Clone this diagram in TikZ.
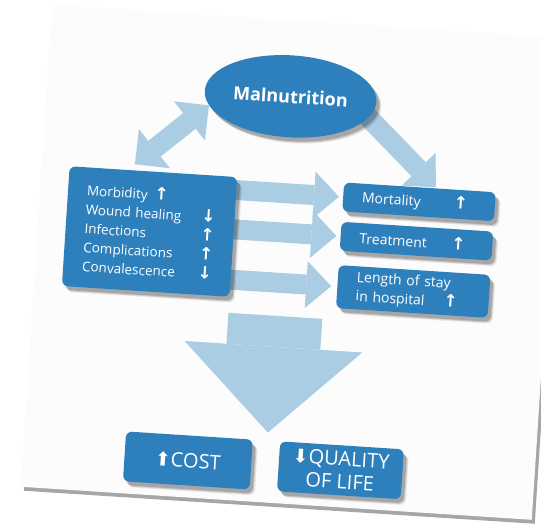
\documentclass[tikz,border=0pt]{standalone}
\usepackage{fontspec}
\setmainfont{Open Sans}
\newfontfamily\arrowfont{DejaVu Sans}
\usetikzlibrary{positioning, shapes.geometric, arrows.meta, shadows}

\definecolor{boxblue}{RGB}{46,128,188}
\definecolor{flowblue}{RGB}{170,205,228}
\definecolor{sheetwhite}{RGB}{252,252,252}

% small arrows for the trend of each effect
\newcommand{\incr}{{\arrowfont\bfseries\fontsize{17}{17}\selectfont ↑}}
\newcommand{\decr}{{\arrowfont\bfseries\fontsize{17}{17}\selectfont ↓}}
\newcommand{\bigincr}{{\arrowfont\fontsize{19}{19}\selectfont ⬆}}
\newcommand{\bigdecr}{{\arrowfont\fontsize{19}{19}\selectfont ⬇}}

\pgfdeclarelayer{sheet}
\pgfdeclarelayer{flow}
\pgfsetlayers{sheet,flow,main}

\tikzset{
  boxshadow/.style={
    general shadow={shadow xshift=5pt, shadow yshift=-6pt, fill=black, opacity=0.08},
    general shadow={shadow xshift=4pt, shadow yshift=-5pt, fill=black, opacity=0.12},
    general shadow={shadow xshift=3pt, shadow yshift=-4pt, fill=black, opacity=0.18}},
  bluebox/.style={fill=boxblue, text=white, rounded corners=6pt, boxshadow},
  ellnode/.style={bluebox, ellipse, minimum width=172pt, minimum height=82pt,
    inner sep=0pt, font=\bfseries\fontsize{18}{20}\selectfont},
  listbox/.style={bluebox, align=left, text width=130pt, inner xsep=19pt,
    minimum height=120pt, font=\fontsize{13.5}{19}\selectfont},
  outbox/.style={bluebox, align=left, text width=114pt, inner xsep=19pt,
    inner ysep=5pt, minimum height=29pt, font=\fontsize{14}{19}\selectfont},
  costbox/.style={bluebox, align=center, minimum width=127pt, minimum height=50pt,
    inner sep=3pt, font=\fontsize{20}{23}\selectfont},
  flow/.style={draw=flowblue, line width=20pt,
    -{Triangle[width=47pt, length=25pt, line width=0pt]}},
  flowboth/.style={draw=flowblue, line width=20pt,
    {Triangle[width=50pt, length=25pt, line width=0pt]}-{Triangle[width=50pt, length=25pt, line width=0pt]}},
  bigflow/.style={draw=flowblue, line width=94pt,
    -{Triangle[width=178pt, length=86pt, line width=0pt]}}
}

\begin{document}
\begin{tikzpicture}[x=1pt, y=-1pt]
  \useasboundingbox (0,0) rectangle (541,523);
  \begin{scope}[rotate around={-3.7:(280,260)}, transform shape]
    % the sheet under the chart
    \begin{pgfonlayer}{sheet}
      \fill[sheetwhite, general shadow={shadow xshift=3pt, shadow yshift=-4pt, fill=black, opacity=0.35}]
        (36,20) rectangle (548,503);
    \end{pgfonlayer}

    % Define the boxes
    \node[ellnode] (malnut) at (280,96) {Malnutrition};
    \node[listbox] (effects) at (148,240) {Morbidity\enspace\incr\\
      Wound healing\hfill\decr\\
      Infections\hfill\incr\\
      Complications\hfill\incr\\
      Convalescence\hfill\decr};
    \node[outbox] (mort) at (415,193) {Mortality\hfill\incr\hspace*{8pt}};
    \node[outbox, below=10pt of mort] (treat) {Treatment\hfill\incr\hspace*{8pt}};
    \node[outbox, below=14pt of treat] (stay) {Length of stay\\ in hospital\hfill\incr\hspace*{12pt}};
    \node[costbox] (cost) at (201,466) {\bigincr COST};
    \node[costbox, minimum width=124pt, right=27pt of cost] (qual) {\bigdecr QUALITY\\ OF LIFE};

    % Draw the wide arrows behind the boxes
    \begin{pgfonlayer}{flow}
      \coordinate (flowtop) at (279,316);
      \coordinate (flowtip) at (279,433);
      \draw[flowboth] ([shift={(-19pt,6pt)}]effects.north) -- (malnut.190);
      \draw[flow] ([shift={(46pt,14pt)}]malnut.center) -- ([shift={(16pt,1pt)}]mort.north);
      \draw[flow, shorten >=4pt] ([xshift=-110pt]mort.west) -- (mort.west);
      \draw[flow, shorten >=4pt] ([xshift=-110pt]treat.west) -- (treat.west);
      \draw[flow, shorten >=6pt] ([xshift=-110pt]stay.west) -- (stay.west);
      \draw[bigflow] (flowtop) -- (flowtip);
    \end{pgfonlayer}
  \end{scope}
\end{tikzpicture}
\end{document}
